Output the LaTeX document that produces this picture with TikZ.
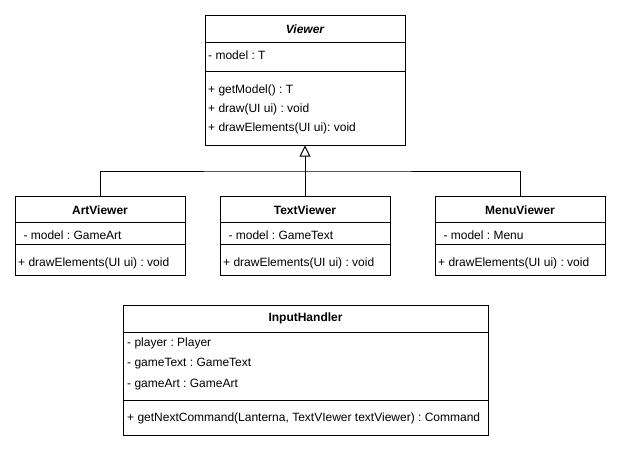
\documentclass[tikz,border=0pt]{standalone}
\usepackage{fontspec}
\setmainfont{Liberation Sans}
\usetikzlibrary{arrows.meta}
\frenchspacing
\begin{document}
\begin{tikzpicture}[x=1pt,y=-1pt,
  box/.style={draw,line width=1pt,inner sep=0pt},
  txt/.style={anchor=west,inner sep=0pt,font=\fontsize{12}{14}\selectfont},
  ttl/.style={inner sep=0pt,font=\fontsize{12}{14}\selectfont\bfseries},
  div/.style={line width=1pt},
  conn/.style={line width=1pt}]
\useasboundingbox (0,0) rectangle (621,451);
% Viewer
\node[box,minimum width=200,minimum height=130] (viewer) at (305,80) {};
\node[ttl,font=\fontsize{12}{14}\selectfont\bfseries\itshape] (viewerT) at (305,29) {Viewer};
\draw[div] (205,42) -- (405,42);
\draw[div] (205,71) -- (405,71);
\node[txt] (v1) at (208,55) {- model : T};
\node[txt] (v2) at (208,90) {+ getModel() : T};
\node[txt] (v3) at (208,109) {+ draw(UI ui) : void};
\node[txt] (v4) at (208,128) {+ drawElements(UI ui): void};
% ArtViewer
\node[box,minimum width=170,minimum height=79] (artv) at (100,235.5) {};
\node[ttl] (artT) at (100,210) {ArtViewer};
\draw[div] (15,222) -- (185,222);
\draw[div] (15,244) -- (185,244);
\node[txt] (a1) at (20,235) {\ - model : GameArt};
\node[txt] (a2) at (18,263) {+ drawElements(UI ui) : void};
% TextViewer
\node[box,minimum width=170,minimum height=79] (textv) at (305,235.5) {};
\node[ttl] (textT) at (305,210) {TextViewer};
\draw[div] (220,222) -- (390,222);
\draw[div] (220,244) -- (390,244);
\node[txt] (t1) at (225,235) {\ - model : GameText};
\node[txt] (t2) at (223,263) {+ drawElements(UI ui) : void};
% MenuViewer
\node[box,minimum width=170,minimum height=79] (menuv) at (520,235.5) {};
\node[ttl] (menuT) at (520,210) {MenuViewer};
\draw[div] (435,222) -- (605,222);
\draw[div] (435,244) -- (605,244);
\node[txt] (m1) at (440,235) {\ - model : Menu};
\node[txt] (m2) at (438,263) {+ drawElements(UI ui) : void};
% InputHandler
\node[box,minimum width=365,minimum height=130] (ih) at (305.5,370) {};
\node[ttl] (ihT) at (305.5,318) {InputHandler};
\draw[div] (123,332) -- (488,332);
\draw[div] (123,400) -- (488,400);
\node[txt] (i1) at (127,343) {- player : Player};
\node[txt] (i2) at (127,364) {- gameText : GameText};
\node[txt] (i3) at (127,385) {- gameArt : GameArt};
\node[txt] (i4) at (127,418) {+ getNextCommand(Lanterna, TextVIewer textViewer) : Command};
% connectors
\coordinate (j) at (305,171);
\draw[conn,-{Triangle[open,length=11pt,width=11pt]}] (textv.north) -- (viewer.south);
\draw[conn] (artv.north) |- (j) -| (menuv.north);
\end{tikzpicture}
\end{document}
